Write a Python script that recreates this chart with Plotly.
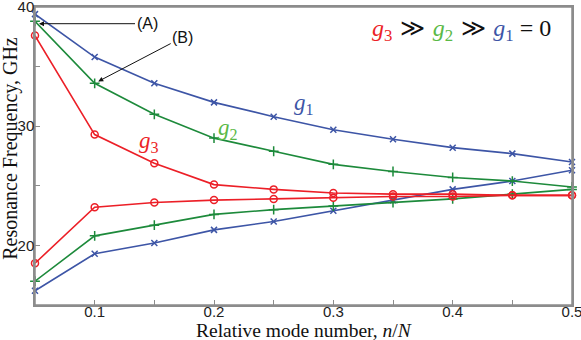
"""Resonance frequency vs relative mode number for three coupling regimes."""

import plotly.graph_objects as go

# mode number n/N
mode_x = [0.05, 0.1, 0.15, 0.2, 0.25, 0.3, 0.35, 0.4, 0.45, 0.5]

# g1 (blue), upper and lower branches, GHz
g1_upper = [39.4, 35.8, 33.6, 32.0, 30.8, 29.7, 28.9, 28.2, 27.7, 27.0]
g1_lower = [16.2, 19.3, 20.2, 21.3, 22.0, 22.9, 23.8, 24.7, 25.4, 26.3]

# g2 (green)
g2_upper = [38.8, 33.6, 31.0, 29.0, 27.9, 26.8, 26.2, 25.7, 25.4, 24.9]
g2_lower = [17.0, 20.8, 21.7, 22.6, 23.0, 23.3, 23.6, 23.9, 24.3, 24.7]

# g3 (red)
g3_upper = [37.6, 29.3, 26.9, 25.1, 24.7, 24.4, 24.3, 24.3, 24.2, 24.2]
g3_lower = [18.5, 23.2, 23.6, 23.8, 23.9, 24.0, 24.1, 24.1, 24.2, 24.2]

x_tickvals = [0.05, 0.1, 0.15, 0.2, 0.25, 0.3, 0.35, 0.4, 0.45, 0.5]
x_ticktext = ["", "0.1", "", "0.2", "", "0.3", "", "0.4", "", "0.5"]
y_tickvals = [15, 20, 25, 30, 35, 40]
y_ticktext = ["", "20", "", "30", "", "40"]

BLUE = "#3d55a6"
GREEN = "#1d8a3b"
RED = "#ec1f27"
LIGHT_GREEN = "#5ab946"
FRAME = "#8c8c8c"
SERIF = "Liberation Serif, Times New Roman, serif"
SANS = "Liberation Sans, Arial, sans-serif"

series = [
    (g1_upper, BLUE, "x-thin-open", 6),
    (g1_lower, BLUE, "x-thin-open", 6),
    (g2_upper, GREEN, "cross-thin-open", 7),
    (g2_lower, GREEN, "cross-thin-open", 7),
    (g3_upper, RED, "circle-open", 7),
    (g3_lower, RED, "circle-open", 7),
]

fig = go.Figure()

for values, color, symbol, size in series:
    fig.add_trace(go.Scatter(
        x=mode_x,
        y=values,
        mode="lines+markers",
        line=dict(color=color, width=1.6),
        marker=dict(symbol=symbol, size=size, color=color, line=dict(color=color, width=1.5)),
        cliponaxis=False,
        showlegend=False,
    ))

axis_common = dict(
    showgrid=False,
    zeroline=False,
    showline=True,
    linecolor=FRAME,
    linewidth=1.5,
    mirror=True,
    ticks="inside",
    ticklen=5,
    tickcolor=FRAME,
    automargin=False,
    ticklabeloverflow="allow",
    tickfont=dict(family=SANS, size=15, color="#222222"),
)

fig.update_xaxes(range=[0.05, 0.5], tickvals=x_tickvals, ticktext=x_ticktext,
                 ticklabelstandoff=-8, **axis_common)
fig.update_yaxes(range=[15, 40], tickvals=y_tickvals, ticktext=y_ticktext,
                 ticklabelstandoff=-4, **axis_common)

# frame drawn as a shape too, so the box is always visible
fig.add_shape(type="rect", xref="paper", yref="paper", x0=0, y0=0, x1=1, y1=1,
              line=dict(color=FRAME, width=1.5), layer="above")

ratio_text = (
    f"<span style='color:{RED}'><i>g</i><sub>3</sub></span>"
    "<span style='font-family:DejaVu Serif;font-weight:normal'> \u226b </span>"
    f"<span style='color:{LIGHT_GREEN}'><i>g</i><sub>2</sub></span>"
    "<span style='font-family:DejaVu Serif;font-weight:normal'> \u226b </span>"
    f"<span style='color:{BLUE}'><i>g</i><sub>1</sub></span> = 0"
)

annotations = [
    # axis titles
    dict(text="Relative mode number, <i>n</i>/<i>N</i>", x=0.5, y=-0.084, xref="paper", yref="paper",
         xanchor="center", yanchor="middle", showarrow=False,
         font=dict(family=SERIF, size=19.5, color="#111111")),
    dict(text="Resonance Frequency, GHz", x=-0.045, y=0.527, xref="paper", yref="paper",
         xanchor="center", yanchor="middle", textangle=-90, showarrow=False,
         font=dict(family=SERIF, size=20, color="#111111")),
    # curve labels
    dict(text="<i>g</i><sub>1</sub>", x=0.275, y=31.9, showarrow=False,
         font=dict(family=SERIF, size=23, color=BLUE)),
    dict(text="<i>g</i><sub>2</sub>", x=0.212, y=29.8, showarrow=False,
         font=dict(family=SERIF, size=23, color=LIGHT_GREEN)),
    dict(text="<i>g</i><sub>3</sub>", x=0.1455, y=28.7, showarrow=False,
         font=dict(family=SERIF, size=23, color=RED)),
    # regime text
    dict(text=ratio_text, x=0.407, y=38.1, xanchor="center", showarrow=False,
         font=dict(family=SERIF, size=24, color="#111111")),
    # pointer labels
    dict(text="(A)", x=0.05, y=38.6, ax=112, ay=0, axref="pixel", ayref="pixel",
         showarrow=True, arrowhead=2, arrowsize=1, arrowwidth=1, arrowcolor="#111111",
         standoff=4, font=dict(family=SANS, size=16, color="#111111")),
    dict(text="(B)", x=0.1, y=33.6, ax=88, ay=-46, axref="pixel", ayref="pixel",
         showarrow=True, arrowhead=2, arrowsize=1, arrowwidth=1, arrowcolor="#111111",
         standoff=4, font=dict(family=SANS, size=16, color="#111111")),
]

fig.update_layout(
    width=581,
    height=340,
    margin=dict(l=35, r=9, t=7, b=35),
    plot_bgcolor="white",
    paper_bgcolor="white",
    annotations=annotations,
)

# drop the default page margin so the figure sits at the window corner
fig.write_html(
    "out.html",
    config={"displayModeBar": False},
    post_script="document.body.style.margin='0';document.body.style.overflow='hidden';",
)
